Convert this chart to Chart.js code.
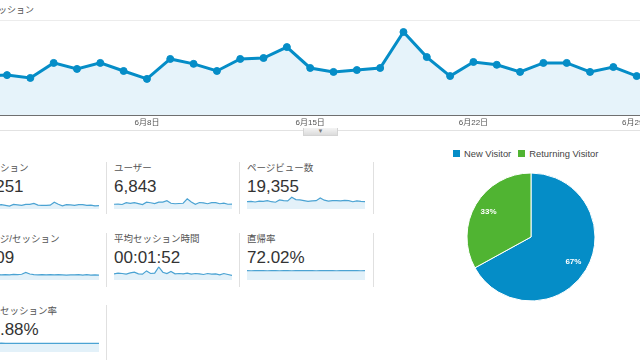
<!DOCTYPE html>
<html>
<head>
<meta charset="utf-8">
<script src="https://cdn.jsdelivr.net/npm/chart.js@4.4.1/dist/chart.umd.min.js"></script>
<style>
  html, body { margin: 0; padding: 0; background: #fff; }
  body { width: 640px; height: 360px; overflow: hidden; position: relative;
         font-family: "Liberation Sans", "Noto Sans CJK JP", sans-serif; }
  .abs { position: absolute; }
  #title { left: -11px; top: 3px; font-size: 9px; color: #555; white-space: nowrap; }
  #rule { left: 0; top: 130px; width: 640px; height: 1px; background: #e2e2e2; }
  #handle { left: 303px; top: 128px; width: 35px; height: 8px; background: linear-gradient(#f4f4f4, #dcdcdc);
            border: 1px solid #d4d4d4; border-top: none; box-sizing: border-box;
            font-size: 6px; color: #777; text-align: center; line-height: 7px; }
  .box { position: absolute; width: 133px; }
  .box .lbl { position: absolute; left: 8px; top: 0; font-size: 9.5px; color: #555; white-space: nowrap; line-height: 12px; }
  .box .val { position: absolute; left: 8px; top: 14px; font-size: 17px; color: #333; white-space: nowrap; line-height: 22px; }
  .box canvas { position: absolute; left: 8px; top: 33px; }
  .div { position: absolute; width: 1px; background: #e0e0e0; }
  #legend { left: 453px; top: 148px; font-size: 9.4px; color: #444; white-space: nowrap; }
  #legend span.sq { display: inline-block; width: 7px; height: 7px; margin-right: 4px; vertical-align: 0px; }
  #legend span.it { margin-right: 7px; }
</style>
</head>
<body>
<div id="title" class="abs">セッション</div>
<canvas id="main" class="abs" width="740" height="130" style="left:-40px;top:0;"></canvas>
<div id="rule" class="abs"></div>
<div id="handle" class="abs">▼</div>
<div id="boxes"></div>
<div id="legend" class="abs"></div>
<canvas id="pie" class="abs" width="140" height="140" style="left:461px;top:167px;"></canvas>

<script>
// --- data ---
const days = ["6月1日","6月2日","6月3日","6月4日","6月5日","6月6日","6月7日","6月8日","6月9日","6月10日",
  "6月11日","6月12日","6月13日","6月14日","6月15日","6月16日","6月17日","6月18日","6月19日","6月20日",
  "6月21日","6月22日","6月23日","6月24日","6月25日","6月26日","6月27日","6月28日","6月29日","6月30日"];
const shownTicks = ["6月8日", "6月15日", "6月22日", "6月29日"];

const sessions = [246,252,234,329,291,329,278,228,354,323,278,354,360,429,297,272,284,297,524,366,
  246,335,317,272,329,329,272,303,246,255];
const users = [183,188,174,245,217,244,207,170,263,240,206,263,268,318,221,202,211,221,390,272,
  183,249,236,203,244,244,202,225,183,190];
const pageviews = [560,590,540,610,580,640,560,520,700,650,620,900,720,700,640,580,620,640,850,680,
  600,650,640,620,660,640,560,630,590,560];
const pagesPerSession = [2.0,2.1,2.0,2.0,2.1,2.0,2.1,2.0,2.2,2.1,2.2,2.9,2.3,2.1,2.0,2.1,2.0,2.1,2.0,2.1,
  2.0,1.9,2.0,2.0,2.1,1.9,2.1,1.9,2.0,1.9];
const avgDuration = [95,105,100,90,110,120,95,90,140,100,105,200,120,100,130,95,100,95,105,90,
  100,95,85,100,90,95,80,100,85,70];
const bounceRate = [72,71,73,72,72,71,72,72,71,72,73,71,72,72,72,73,72,71,72,72,
  73,72,71,72,72,72,73,72,71,72];
const newSessionRate = [66,68,65,67,66,68,66,67,67,66,67,67,67,66,67,67,67,66,67,67,
  67,67,66,67,67,67,67,66,67,67];

const metricLabels = ["セッション", "ユーザー", "ページビュー数", "ページ/セッション", "平均セッション時間", "直帰率", "新規セッション率"];
const metricValues = ["9,251", "6,843", "19,355", "2.09", "00:01:52", "72.02%", "66.88%"];
const metricSeries = [sessions, users, pageviews, pagesPerSession, avgDuration, bounceRate, newSessionRate];

const visitorLabels = ["New Visitor", "Returning Visitor"];
const visitorShare = [67, 33];
const visitorColors = ["#058dc7", "#50b432"];

const BLUE = "#058dc7";

// --- main line chart ---
new Chart(document.getElementById("main"), {
  type: "line",
  data: {
    labels: days,
    datasets: [{
      data: sessions,
      borderColor: BLUE,
      backgroundColor: "#e6f3fa",
      borderWidth: 3,
      pointRadius: 3.5,
      pointBackgroundColor: BLUE,
      pointBorderColor: BLUE,
      pointBorderWidth: 1,
      fill: true,
      tension: 0,
    }],
  },
  options: {
    responsive: false,
    animation: false,
    layout: { autoPadding: false, padding: { left: 23.7, right: 40, top: 20, bottom: 0 } },
    plugins: { legend: { display: false }, tooltip: { enabled: false } },
    scales: {
      x: {
        afterFit: (s) => { s.height = 15; },
        grid: { display: false, drawTicks: false },
        border: { color: "#6f6f6f", width: 1 },
        ticks: {
          autoSkip: false, maxRotation: 0, padding: 3, color: "#555",
          font: { size: 8, family: "'Liberation Sans', 'Noto Sans CJK JP'" },
          callback: (v, i) => (shownTicks.includes(days[i]) ? days[i] : ""),
        },
      },
      y: {
        min: 0, max: 600,
        afterFit: (s) => { s.width = 0; },
        ticks: { display: false, stepSize: 600 },
        border: { display: false },
        grid: { drawTicks: false, color: (c) => (c.tick && c.tick.value === 600 ? "#ececec" : "transparent") },
      },
    },
  },
});

// --- metric boxes with sparklines ---
const boxTops = [162, 162, 162, 233, 233, 233, 305];
const colLefts = [-27, 106, 239];
const boxesEl = document.getElementById("boxes");

metricLabels.forEach((lbl, i) => {
  const col = i < 6 ? i % 3 : 0;
  const box = document.createElement("div");
  box.className = "box";
  box.style.left = colLefts[col] + "px";
  box.style.top = boxTops[i] + "px";
  box.innerHTML = `<div class="lbl">${lbl}</div><div class="val">${metricValues[i]}</div>`;
  const cv = document.createElement("canvas");
  cv.width = 118;
  cv.height = 14;
  box.appendChild(cv);
  boxesEl.appendChild(box);

  new Chart(cv, {
    type: "line",
    data: {
      labels: days,
      datasets: [{
        data: metricSeries[i],
        borderColor: "#4ba3d3",
        backgroundColor: "#e3f1f9",
        borderWidth: 1.2,
        pointRadius: 0,
        fill: true,
        tension: 0,
      }],
    },
    options: {
      responsive: false,
      animation: false,
      layout: { autoPadding: false, padding: { top: 1 } },
      plugins: { legend: { display: false }, tooltip: { enabled: false } },
      scales: {
        x: { display: false },
        y: { display: false, min: 0 },
      },
    },
  });
});

// column dividers
[[106, 162, 52], [239, 162, 52], [373, 162, 52], [106, 233, 54], [239, 233, 54], [373, 233, 54], [106, 305, 55]]
  .forEach(([x, y, h]) => {
    const d = document.createElement("div");
    d.className = "div";
    d.style.left = x + "px";
    d.style.top = y + "px";
    d.style.height = h + "px";
    boxesEl.appendChild(d);
  });

// --- pie legend ---
document.getElementById("legend").innerHTML = visitorLabels
  .map((l, i) => `<span class="it"><span class="sq" style="background:${visitorColors[i]}"></span>${l}</span>`)
  .join("");

// --- pie chart ---
const pieLabels = {
  id: "pieLabels",
  afterDatasetsDraw(chart) {
    const { ctx } = chart;
    const meta = chart.getDatasetMeta(0);
    ctx.save();
    ctx.fillStyle = "#fff";
    ctx.font = "bold 8px 'Liberation Sans'";
    ctx.textAlign = "center";
    ctx.textBaseline = "middle";
    meta.data.forEach((arc, i) => {
      const mid = (arc.startAngle + arc.endAngle) / 2;
      const r = arc.outerRadius * 0.77;
      ctx.fillText(visitorShare[i] + "%", arc.x + Math.cos(mid) * r, arc.y + Math.sin(mid) * r);
    });
    ctx.restore();
  },
};

new Chart(document.getElementById("pie"), {
  type: "pie",
  data: {
    labels: visitorLabels,
    datasets: [{
      data: visitorShare,
      backgroundColor: visitorColors,
      borderColor: "#fff",
      borderWidth: 1,
    }],
  },
  options: {
    responsive: false,
    animation: false,
    layout: { padding: 5.5 },
    plugins: { legend: { display: false }, tooltip: { enabled: false } },
  },
  plugins: [pieLabels],
});
</script>
</body>
</html>
